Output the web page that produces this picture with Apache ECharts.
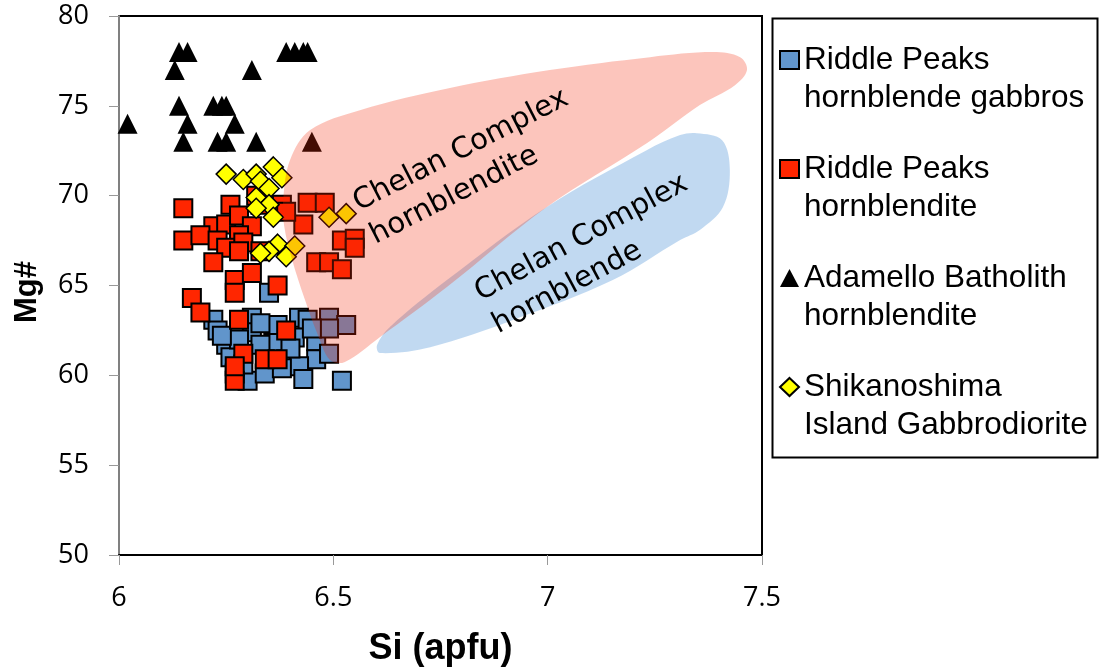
<!DOCTYPE html>
<html><head><meta charset="utf-8">
<script src="https://cdn.jsdelivr.net/npm/echarts@6/dist/echarts.min.js"></script>
<style>html,body{margin:0;padding:0;background:#fff}#c{width:1099px;height:670px}</style>
</head><body><div id="c"></div>
<script>
// ---- data (Si apfu, Mg#) ----
const gabbroPts = [[6.22,63.1],[6.23,62.5],[6.25,61.7],[6.26,61.0],[6.30,59.7],[6.31,63.2],[6.31,62.4],[6.34,60.1],[6.35,64.6],[6.37,62.8],[6.36,61.8],[6.39,60.9],[6.42,63.2],[6.44,63.1],[6.41,62.1],[6.46,61.9],[6.46,60.9],[6.42,60.5],[6.43,59.8],[6.52,59.7],[6.49,63.2],[6.53,62.8],[6.49,62.6],[6.49,61.2],[6.28,62.0],[6.38,60.4],[6.33,61.7],[6.27,60.1],[6.24,62.2],[6.29,60.6],[6.40,61.5],[6.45,62.6],[6.33,62.9]];
const hornblenditePts = [[6.15,69.3],[6.26,69.5],[6.32,70.0],[6.22,68.3],[6.25,68.4],[6.28,68.9],[6.31,68.3],[6.15,67.5],[6.19,67.8],[6.23,67.5],[6.28,67.8],[6.25,67.1],[6.29,67.4],[6.28,66.9],[6.33,66.9],[6.22,66.3],[6.27,65.3],[6.31,65.7],[6.37,65.0],[6.17,64.3],[6.19,63.5],[6.28,63.1],[6.29,61.2],[6.34,60.9],[6.27,59.7],[6.27,60.5],[6.37,60.9],[6.39,62.5],[6.27,64.6],[6.44,69.6],[6.48,69.6],[6.43,68.4],[6.46,66.3],[6.49,66.3],[6.52,65.9],[6.52,67.5],[6.55,67.6],[6.55,67.1],[6.38,69.5],[6.39,69.1],[6.33,69.5]];
const adamelloPts = [[6.14,78],[6.16,78],[6.13,77],[6.31,77],[6.39,78],[6.41,78],[6.43,78],[6.44,78],[6.02,74],[6.14,75],[6.22,75],[6.24,75],[6.25,75],[6.16,74],[6.27,74],[6.15,73],[6.23,73],[6.25,73],[6.32,73],[6.45,73]];
const shikanoshimaPts = [[6.25,71.2],[6.29,70.9],[6.32,71.2],[6.36,71.6],[6.38,71.0],[6.33,70.8],[6.35,70.4],[6.32,69.9],[6.35,69.5],[6.32,69.3],[6.36,68.8],[6.37,67.3],[6.35,66.9],[6.33,66.8],[6.41,67.2],[6.39,66.6],[6.49,68.8],[6.53,69.0]];

// field outlines (data coordinates)
const chelanHornblenditeField = [[6.383,69.76],[6.399,71.98],[6.446,73.65],[6.562,74.76],[6.772,75.99],[7.005,76.99],[7.239,77.71],[7.386,77.99],[7.449,77.71],[7.465,76.99],[7.437,76.15],[7.355,75.04],[7.232,72.93],[6.998,69.37],[6.765,64.91],[6.609,62.13],[6.527,60.74],[6.492,60.85],[6.464,62.24],[6.434,64.19],[6.404,66.42],[6.385,68.36]];
const chelanHornblendeField = [[7.348,73.48],[7.407,73.09],[7.425,71.42],[7.409,69.37],[7.355,68.09],[7.309,67.53],[7.152,65.30],[6.919,63.08],[6.726,61.57],[6.609,61.24],[6.602,61.69],[6.632,62.69],[6.765,65.30],[6.998,69.37],[7.232,72.54],[7.309,73.37]];
const fieldLabels = [[6.571,68.6,'Chelan Complex\nhornblendite'],[6.856,63.6,'Chelan Complex\nhornblende']];
const fieldLabelAngles = [27, 28.4];

const seriesNames = ['Riddle Peaks hornblende gabbros','Riddle Peaks hornblendite','Adamello Batholith hornblendite','Shikanoshima Island Gabbrodiorite'];
const legendText = ['Riddle Peaks\nhornblende gabbros','Riddle Peaks\nhornblendite','Adamello Batholith\nhornblendite','Shikanoshima\nIsland Gabbrodiorite'];
const xTicks = {min: 6, max: 7.5, step: 0.5};
const yTicks = {min: 50, max: 80, step: 5};

const chart = echarts.init(document.getElementById('c'), null, {renderer: 'canvas'});

function fieldSeries(outline, fill, z) {
  return {
    type: 'custom', coordinateSystem: 'cartesian2d', silent: true, z: z,
    data: [outline[0]],
    renderItem: function (params, api) {
      return {
        type: 'polygon',
        shape: {points: outline.map(function (p) { return api.coord(p); }), smooth: 0.35},
        style: {fill: fill, stroke: null}
      };
    }
  };
}

const option = {
  animation: false,
  backgroundColor: '#fff',
  grid: {left: 119, right: 337, top: 16, bottom: 115, outerBoundsMode: 'none', containLabel: false,
         show: true, borderColor: '#000', borderWidth: 2, backgroundColor: 'transparent'},
  xAxis: {
    type: 'value', min: xTicks.min, max: xTicks.max, interval: xTicks.step,
    name: 'Si (apfu)', nameLocation: 'middle', nameGap: 76,
    nameTextStyle: {fontFamily: 'Liberation Sans', fontWeight: 'bold', fontSize: 36, color: '#000'},
    axisLine: {show: true, onZero: false, lineStyle: {color: '#000', width: 2}},
    axisTick: {show: true, length: 10, lineStyle: {color: '#999', width: 1}},
    axisLabel: {fontFamily: 'Open Sans', fontSize: 27, color: '#000', margin: 30},
    splitLine: {show: false}
  },
  yAxis: {
    type: 'value', min: yTicks.min, max: yTicks.max, interval: yTicks.step,
    name: 'Mg#', nameLocation: 'middle', nameGap: 76, nameRotate: 90,
    nameTextStyle: {fontFamily: 'Liberation Sans', fontWeight: 'bold', fontSize: 31, color: '#000', padding: [0, 13, 0, 0]},
    axisLine: {show: true, onZero: false, lineStyle: {color: '#808080', width: 2}},
    axisTick: {show: true, length: 10, lineStyle: {color: '#999', width: 1}},
    axisLabel: {fontFamily: 'Open Sans', fontSize: 27, color: '#000', margin: 30},
    splitLine: {show: false}
  },
  legend: {
    orient: 'vertical', left: 779, top: 3, padding: 0, itemGap: -5,
    itemWidth: 19, itemHeight: 18, selectedMode: false,
    data: seriesNames,
    formatter: function (name) { return '\n' + legendText[seriesNames.indexOf(name)]; },
    textStyle: {fontFamily: 'Liberation Sans', fontSize: 31.5, color: '#000', lineHeight: 38}
  },
  graphic: [{
    type: 'rect', left: 770, top: 16, silent: true,
    shape: {width: 325, height: 439},
    style: {fill: 'none', stroke: '#000', lineWidth: 2}
  }],
  series: [
    {type: 'scatter', name: seriesNames[0], data: gabbroPts, symbol: 'rect', symbolSize: 18, z: 2,
     itemStyle: {color: '#6195cb', borderColor: '#000', borderWidth: 2, opacity: 1}},
    {type: 'scatter', name: seriesNames[1], data: hornblenditePts, symbol: 'rect', symbolSize: 18, z: 2,
     itemStyle: {color: '#ff2600', borderColor: '#000', borderWidth: 2, opacity: 1}},
    {type: 'scatter', name: seriesNames[2], data: adamelloPts, symbol: 'triangle', symbolSize: 20, z: 2,
     itemStyle: {color: '#000', opacity: 1}},
    {type: 'scatter', name: seriesNames[3], data: shikanoshimaPts, symbol: 'diamond', symbolSize: 20, z: 2,
     itemStyle: {color: '#ffff00', borderColor: '#000', borderWidth: 1.5, opacity: 1}},
    fieldSeries(chelanHornblendeField, 'rgba(100,160,220,0.4)', 3),
    fieldSeries(chelanHornblenditeField, 'rgba(243,40,6,0.27)', 4),
    {
      type: 'custom', coordinateSystem: 'cartesian2d', silent: true, z: 5,
      data: fieldLabels,
      renderItem: function (params, api) {
        const p = api.coord([api.value(0), api.value(1)]);
        const t = fieldLabels[params.dataIndex][2];
        return {
          type: 'text', x: p[0], y: p[1], rotation: fieldLabelAngles[params.dataIndex] * Math.PI / 180,
          style: {text: t, font: '29px "DejaVu Sans"', fill: '#000', align: 'left', verticalAlign: 'middle', lineHeight: 37}
        };
      }
    }
  ]
};
chart.setOption(option);
</script>
</body></html>
